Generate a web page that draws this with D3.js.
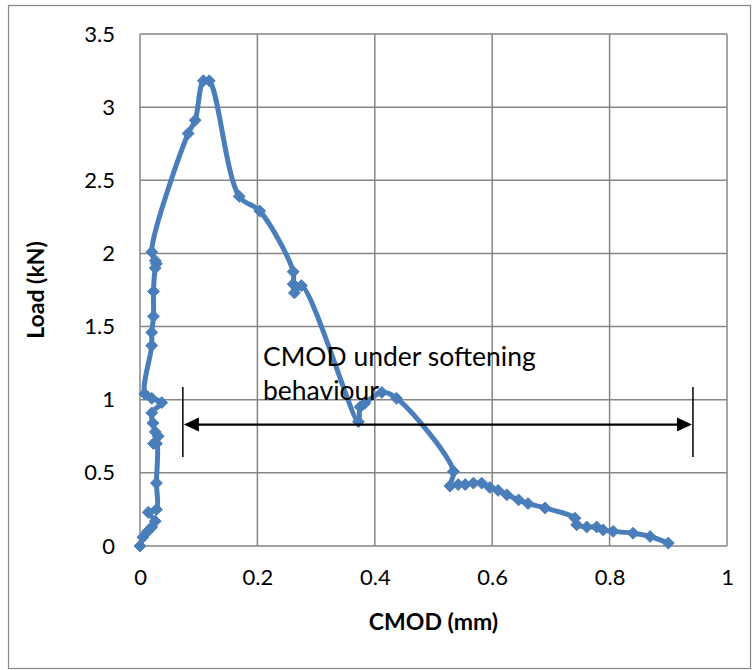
<!DOCTYPE html>
<html>
<head>
<meta charset="utf-8">
<script src="https://cdn.jsdelivr.net/npm/d3@7"></script>
<style>
html,body{margin:0;padding:0;background:#fff;}
svg{display:block;}
text{font-family:Lato,"Open Sans",sans-serif;}
</style>
</head>
<body>
<svg id="chart" width="753" height="670"></svg>
<script>
// CMOD (mm)
const cmod = [0, 0.005, 0.013, 0.02, 0.026, 0.014, 0.028, 0.028, 0.028, 0.023, 0.031, 0.026, 0.022, 0.02, 0.037, 0.02, 0.008,
  0.02, 0.02, 0.023, 0.023, 0.026, 0.028, 0.026, 0.02,
  0.082, 0.094, 0.108, 0.118, 0.169, 0.204,
  0.261, 0.261, 0.263, 0.275,
  0.372, 0.375, 0.383, 0.412, 0.437,
  0.534, 0.528, 0.542, 0.554, 0.568, 0.582, 0.596, 0.61, 0.625, 0.645, 0.661, 0.69,
  0.741, 0.744, 0.761, 0.778, 0.789, 0.806, 0.84, 0.869, 0.9];
// Load (kN)
const load = [0, 0.06, 0.1, 0.13, 0.17, 0.23, 0.25, 0.43, 0.70, 0.70, 0.75, 0.78, 0.84, 0.91, 0.98, 1.01, 1.04,
  1.37, 1.46, 1.57, 1.74, 1.90, 1.93, 1.95, 2.01,
  2.82, 2.91, 3.18, 3.18, 2.39, 2.29,
  1.875, 1.79, 1.73, 1.78,
  0.85, 0.95, 0.975, 1.05, 1.01,
  0.51, 0.41, 0.42, 0.42, 0.43, 0.43, 0.40, 0.38, 0.35, 0.315, 0.29, 0.26,
  0.19, 0.145, 0.13, 0.13, 0.11, 0.10, 0.087, 0.065, 0.02];
const xTicks = [0, 0.2, 0.4, 0.6, 0.8, 1];
const yTicks = [0, 0.5, 1, 1.5, 2, 2.5, 3, 3.5];
const xTitle = "CMOD (mm)";
const yTitle = "Load (kN)";
const annoLines = ["CMOD under softening", "behaviour"];
const annoRange = [0.073, 0.942]; // CMOD span of the arrow
const annoLevel = 0.83;           // load level of the arrow

const svg = d3.select("#chart");
const L = 140, R = 727, T = 34, B = 546;
const x = d3.scaleLinear().domain([0, 1]).range([L, R]);
const y = d3.scaleLinear().domain([0, 3.5]).range([B, T]);
const grid = "#868686";
const font = "Lato, sans-serif";

// outer border
svg.append("rect").attr("x", 8.5).attr("y", 5.5).attr("width", 742).attr("height", 663)
  .attr("fill", "none").attr("stroke", grid).attr("stroke-width", 1.2);

// gridlines
svg.append("g").selectAll("line").data(xTicks).join("line")
  .attr("x1", d => x(d)).attr("x2", d => x(d)).attr("y1", T).attr("y2", B)
  .attr("stroke", grid).attr("stroke-width", 1.5);
svg.append("g").selectAll("line").data(yTicks).join("line")
  .attr("y1", d => y(d)).attr("y2", d => y(d)).attr("x1", L).attr("x2", R)
  .attr("stroke", grid).attr("stroke-width", 1.5);

// axes (labels only)
const xAxis = svg.append("g").attr("transform", `translate(0,${B})`)
  .call(d3.axisBottom(x).tickValues(xTicks).tickFormat(d3.format("")).tickSize(0).tickPadding(23));
const yAxis = svg.append("g").attr("transform", `translate(${L},0)`)
  .call(d3.axisLeft(y).tickValues(yTicks).tickFormat(d3.format("")).tickSize(0).tickPadding(25));
[xAxis, yAxis].forEach(a => {
  a.select(".domain").remove();
  a.selectAll("text").attr("font-family", font).attr("font-size", 22).attr("fill", "#000");
});

// series
const pts = cmod.map((c, i) => [c, load[i]]);
const line = d3.line().x(d => x(d[0])).y(d => y(d[1])).curve(d3.curveCatmullRom.alpha(0.5));
svg.append("path").attr("d", line(pts)).attr("fill", "none")
  .attr("stroke", "#4a7ebb").attr("stroke-width", 5).attr("stroke-linejoin", "round");
svg.append("g").selectAll("path").data(pts).join("path")
  .attr("d", d3.symbol(d3.symbolDiamond2, 90)())
  .attr("transform", d => `translate(${x(d[0])},${y(d[1])})`)
  .attr("fill", "#4a7ebb").attr("stroke", "#4a7ebb").attr("stroke-width", 1);

// annotation arrow
const ay = y(annoLevel);
const ax1 = x(annoRange[0]), ax2 = x(annoRange[1]);
svg.append("line").attr("x1", ax1).attr("x2", ax1).attr("y1", 387).attr("y2", 457)
  .attr("stroke", "#000").attr("stroke-width", 1.5);
svg.append("line").attr("x1", ax2).attr("x2", ax2).attr("y1", 387).attr("y2", 457)
  .attr("stroke", "#000").attr("stroke-width", 1.5);
svg.append("line").attr("x1", ax1 + 14).attr("x2", ax2 - 14).attr("y1", ay).attr("y2", ay)
  .attr("stroke", "#000").attr("stroke-width", 2.2);
svg.append("path").attr("d", `M${ax1 + 1},${ay} L${ax1 + 16},${ay - 7} L${ax1 + 16},${ay + 7} Z`).attr("fill", "#000");
svg.append("path").attr("d", `M${ax2 - 1},${ay} L${ax2 - 16},${ay - 7} L${ax2 - 16},${ay + 7} Z`).attr("fill", "#000");

svg.append("g").selectAll("text").data(annoLines).join("text")
  .attr("x", 263).attr("y", (d, i) => 366 + i * 34)
  .attr("font-family", font).attr("font-size", 26.5).attr("fill", "#000")
  .text(d => d);

// axis titles
svg.append("text").attr("x", (L + R) / 2).attr("y", 630).attr("text-anchor", "middle")
  .attr("font-family", font).attr("font-weight", "bold").attr("font-size", 23).text(xTitle);
svg.append("text").attr("transform", `translate(44,${(T + B) / 2}) rotate(-90)`).attr("text-anchor", "middle")
  .attr("font-family", font).attr("font-weight", "bold").attr("font-size", 23).text(yTitle);
</script>
</body>
</html>
